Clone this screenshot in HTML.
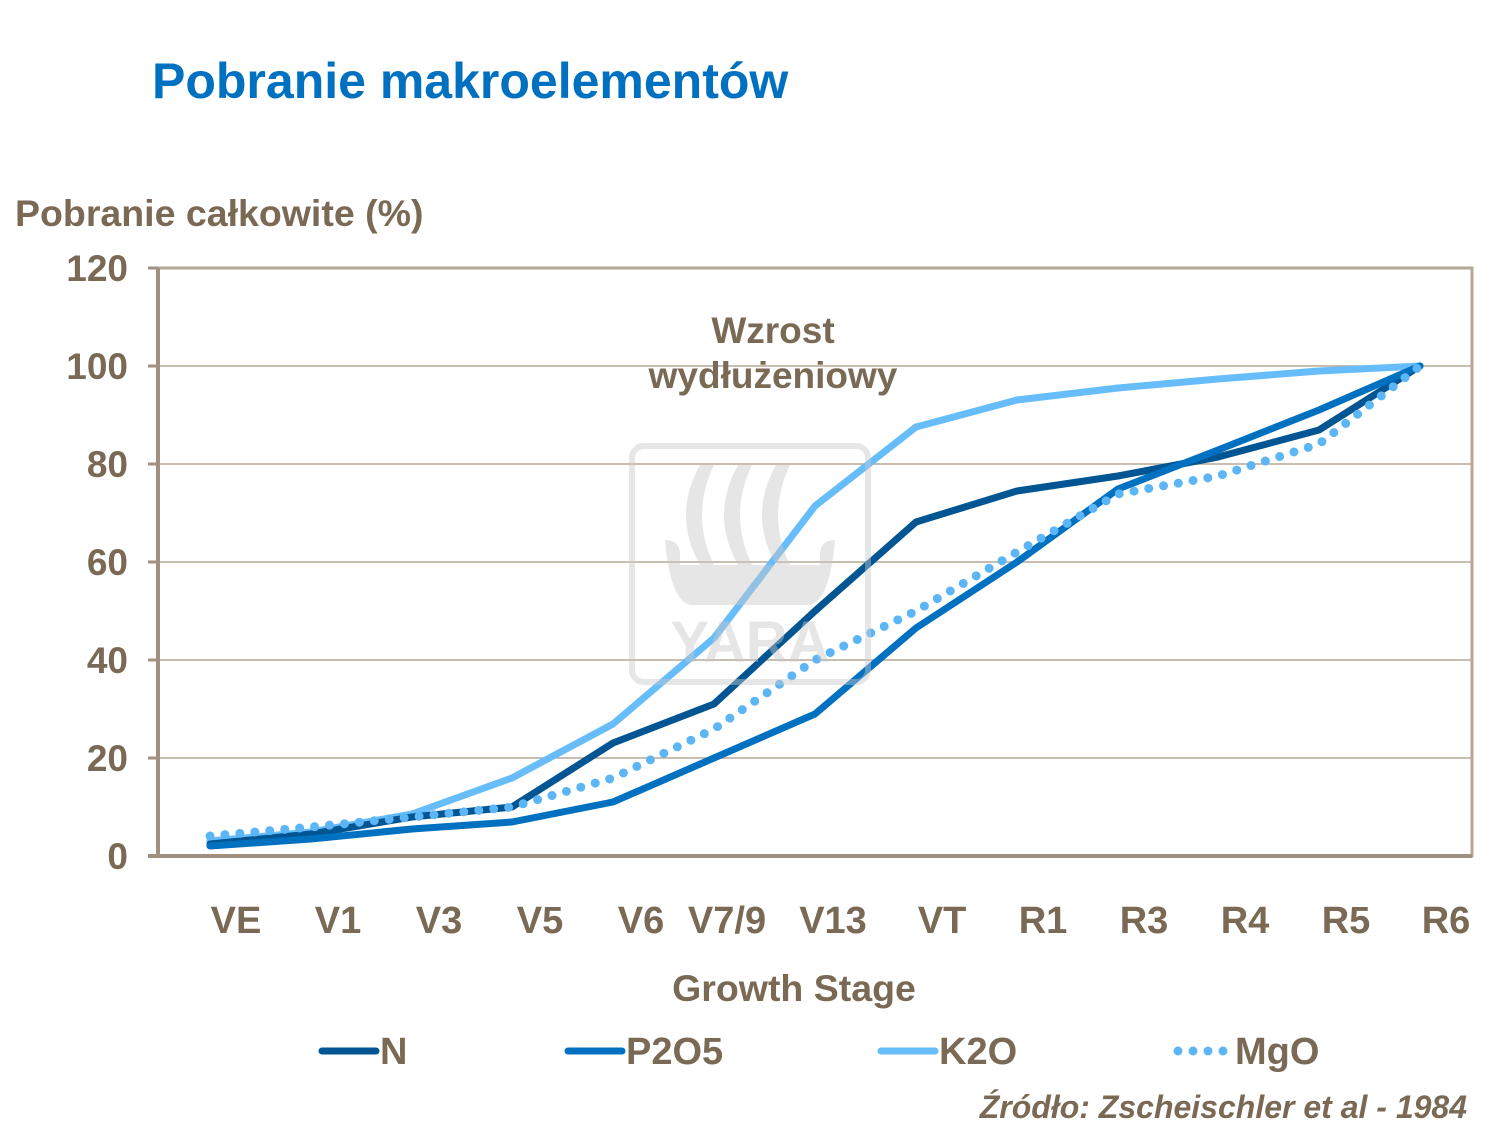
<!DOCTYPE html>
<html><head><meta charset="utf-8"><style>
body{margin:0;background:#fff}
svg{display:block}
text{font-family:"Liberation Sans",Arial,sans-serif;font-weight:bold;fill:#7a6a55}
</style></head><body>
<svg width="1500" height="1128" viewBox="0 0 1500 1128" xmlns="http://www.w3.org/2000/svg">
<text x="152" y="98" font-size="50" style="fill:#0070c0">Pobranie makroelementów</text>
<text x="15" y="226" font-size="37.5">Pobranie całkowite (%)</text>
<g stroke="#b5a898" stroke-width="1.5">
<line x1="158" y1="366" x2="1472" y2="366"/>
<line x1="158" y1="464" x2="1472" y2="464"/>
<line x1="158" y1="562" x2="1472" y2="562"/>
<line x1="158" y1="660" x2="1472" y2="660"/>
<line x1="158" y1="758" x2="1472" y2="758"/>
</g>
<rect x="158" y="268" width="1314" height="588" fill="none" stroke="#b5a898" stroke-width="3"/>
<line x1="158" y1="268" x2="158" y2="858" stroke="#a09080" stroke-width="4"/>
<line x1="148" y1="856" x2="1472" y2="856" stroke="#a09080" stroke-width="4"/>
<g stroke="#a09080" stroke-width="3">
<line x1="148" y1="268" x2="158" y2="268"/><line x1="148" y1="366" x2="158" y2="366"/>
<line x1="148" y1="464" x2="158" y2="464"/><line x1="148" y1="562" x2="158" y2="562"/>
<line x1="148" y1="660" x2="158" y2="660"/><line x1="148" y1="758" x2="158" y2="758"/>
</g>
<g font-size="37" text-anchor="end">
<text x="128" y="281">120</text><text x="128" y="379">100</text><text x="128" y="477">80</text>
<text x="128" y="575">60</text><text x="128" y="673">40</text><text x="128" y="771">20</text><text x="128" y="869">0</text>
</g>
<g font-size="38" text-anchor="middle">
<text x="236" y="933">VE</text><text x="338" y="933">V1</text><text x="439" y="933">V3</text>
<text x="540" y="933">V5</text><text x="641" y="933">V6</text><text x="727" y="933">V7/9</text>
<text x="833" y="933">V13</text><text x="942" y="933">VT</text><text x="1043" y="933">R1</text>
<text x="1144" y="933">R3</text><text x="1245" y="933">R4</text><text x="1346" y="933">R5</text><text x="1446" y="933">R6</text>
</g>
<text x="794" y="1001" font-size="37.5" text-anchor="middle">Growth Stage</text>
<text x="773" y="343" font-size="37" text-anchor="middle">Wzrost</text>
<text x="773" y="388" font-size="37" text-anchor="middle">wydłużeniowy</text>
<g fill="none" stroke-width="7" stroke-linejoin="round" stroke-linecap="round">
<polyline stroke="#66bdfa" points="210,841 311,832 412,814 512,778 613,724 714,638 815,506 916,427 1017,400 1118,388 1218,379 1319,371 1420,366"/>
<polyline stroke="#005592" points="210,844 311,834 412,817 512,807 613,743 714,704 815,611 916,522 1017,491 1118,476 1218,457 1319,430 1420,366"/>
<polyline stroke="#0070c0" points="210,846 311,839 412,829 512,822 613,802 714,758 815,714 916,628 1017,562 1118,489 1218,450 1319,410 1420,366"/>
<polyline stroke="#5cb6f5" stroke-dasharray="0 15" stroke-width="9" points="210,836 311,827 412,817 512,807 613,778 714,729 815,660 916,611 1017,552 1118,494 1218,476 1319,444 1420,366"/>
</g>
<g opacity="0.45">
<rect x="632" y="446" width="236" height="236" rx="12" fill="none" stroke="#c8c8c8" stroke-width="6"/>
<path d="M700 465 q-28 50 0 100 h14 q-24 -50 0 -100z M738 465 q-28 50 0 100 h14 q-24 -50 0 -100z M776 465 q-28 50 0 100 h14 q-24 -50 0 -100z" fill="#c8c8c8"/>
<path d="M665 540 q15 0 15 15 v10 h140 v-10 q0 -15 15 -15 q-5 60 -25 65 h-120 q-20 -5 -25 -65z" fill="#c8c8c8"/>
<text x="750" y="662" font-size="58" text-anchor="middle" style="fill:#c8c8c8">YARA</text>
</g>
<g stroke-width="7" stroke-linecap="round">
<line x1="322" y1="1051" x2="376" y2="1051" stroke="#005592"/>
<line x1="568" y1="1051" x2="622" y2="1051" stroke="#0070c0"/>
<line x1="881" y1="1051" x2="935" y2="1051" stroke="#66bdfa"/>
<line x1="1178" y1="1051" x2="1230" y2="1051" stroke="#5cb6f5" stroke-dasharray="0 15" stroke-width="9"/>
</g>
<g font-size="38">
<text x="380" y="1064">N</text><text x="626" y="1064">P2O5</text>
<text x="939" y="1064">K2O</text><text x="1235" y="1064">MgO</text>
</g>
<text x="1467" y="1118" font-size="32" font-style="italic" text-anchor="end">Źródło: Zscheischler  et al - 1984</text>
</svg>
</body></html>
